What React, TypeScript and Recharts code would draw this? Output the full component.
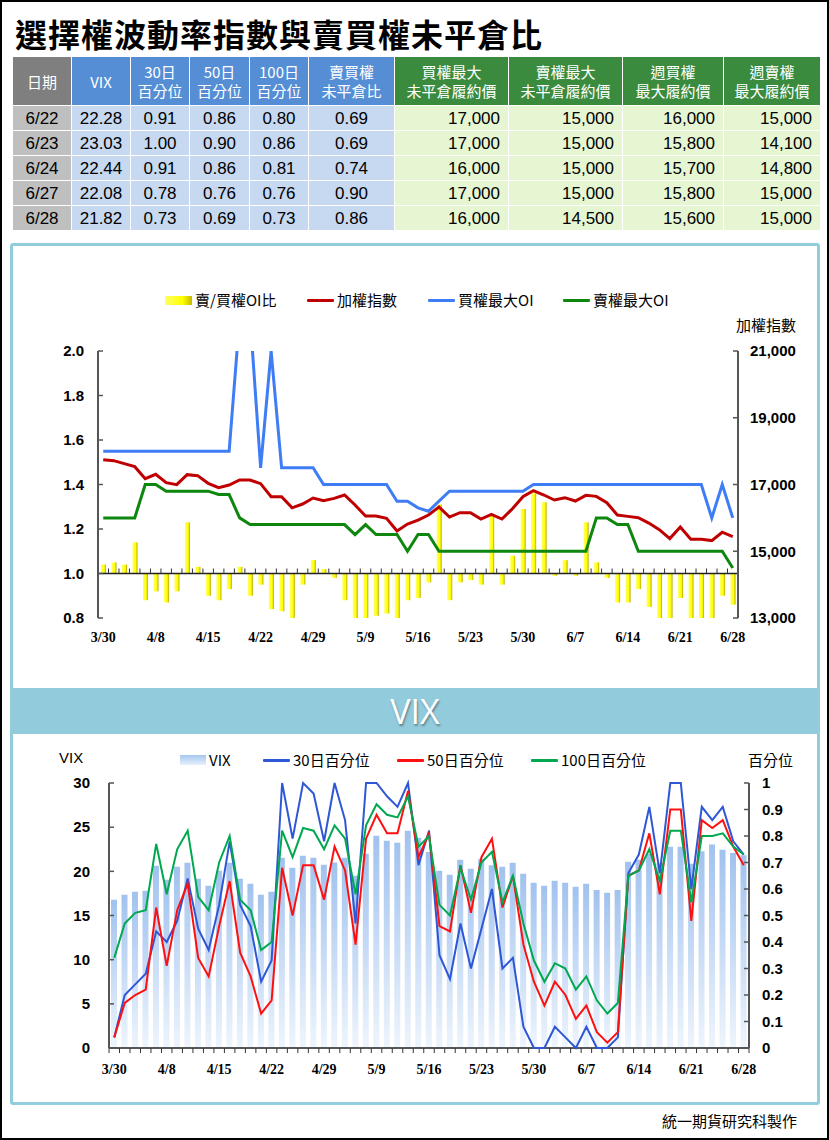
import { ComposedChart, Bar, Line, XAxis, YAxis, ReferenceLine } from "recharts";

// trading days 3/30 - 6/28
const dates = [
  "3/30", "3/31", "4/1", "4/6", "4/7", "4/8", "4/11", "4/12", "4/13", "4/14", "4/15",
  "4/18", "4/19", "4/20", "4/21", "4/22", "4/25", "4/26", "4/27", "4/28", "4/29",
  "5/3", "5/4", "5/5", "5/6", "5/9", "5/10", "5/11", "5/12", "5/13",
  "5/16", "5/17", "5/18", "5/19", "5/20", "5/23", "5/24", "5/25", "5/26", "5/27",
  "5/30", "5/31", "6/1", "6/2", "6/6", "6/7", "6/8", "6/9", "6/10",
  "6/13", "6/14", "6/15", "6/16", "6/17", "6/20", "6/21", "6/22", "6/23", "6/24", "6/27", "6/28",
];

// upper chart
const putCallRatio = [
  1.04, 1.05, 1.04, 1.14, 0.88, 0.92, 0.87, 0.92, 1.23, 1.03, 0.9,
  0.88, 0.93, 1.03, 0.9, 0.95, 0.84, 0.83, 0.78, 0.95, 1.06,
  1.02, 0.98, 0.88, 0.8, 0.77, 0.81, 0.82, 0.79, 0.88,
  0.89, 0.96, 1.31, 0.88, 0.96, 0.97, 0.95, 1.26, 0.95, 1.08,
  1.29, 1.36, 1.32, 0.99, 1.06, 0.99, 1.23, 1.05, 0.98,
  0.87, 0.87, 0.93, 0.85, 0.76, 0.75, 0.89, 0.69, 0.69, 0.74, 0.9, 0.86,
];
const taiex = [
  17745, 17715, 17625, 17535, 17175, 17305, 17055, 16995, 17295, 17265, 17035,
  16905, 16985, 17135, 17135, 17025, 16635, 16635, 16300, 16415, 16595,
  16515, 16585, 16685, 16385, 16055, 16055, 15985, 15605, 15815,
  15930, 16085, 16325, 16025, 16155, 16155, 15965, 16105, 15965, 16275,
  16635, 16815, 16685, 16535, 16605, 16505, 16675, 16645, 16455,
  16085, 16045, 16005, 15845, 15645, 15380, 15725, 15360, 15360, 15320, 15570, 15440,
];
const callMaxOI = [
  18000, 18000, 18000, 18000, 18000, 18000, 18000, 18000, 18000, 18000, 18000,
  18000, 18000, 22000, 22000, 17500, 21000, 17500, 17500, 17500, 17500,
  17000, 17000, 17000, 17000, 17000, 17000, 17000, 16500, 16500,
  16300, 16200, 16500, 16800, 16800, 16800, 16800, 16800, 16800, 16800,
  16800, 17000, 17000, 17000, 17000, 17000, 17000, 17000, 17000,
  17000, 17000, 17000, 17000, 17000, 17000, 17000, 17000, 17000, 16000, 17000, 16000,
];
const putMaxOI = [
  16000, 16000, 16000, 16000, 17000, 17000, 16800, 16800, 16800, 16800, 16800,
  16700, 16700, 16000, 15800, 15800, 15800, 15800, 15800, 15800, 15800,
  15800, 15800, 15800, 15500, 15800, 15500, 15500, 15500, 15000,
  15500, 15500, 15000, 15000, 15000, 15000, 15000, 15000, 15000, 15000,
  15000, 15000, 15000, 15000, 15000, 15000, 15000, 16000, 16000,
  15800, 15800, 15000, 15000, 15000, 15000, 15000, 15000, 15000, 15000, 15000, 14500,
];

// lower chart
const vix = [
  16.77, 17.34, 17.68, 17.79, 20.63, 19.04, 20.51, 20.97, 19.15, 18.36, 20.06,
  20.97, 19.15, 18.59, 17.34, 17.68, 21.53, 20.4, 21.76, 21.53, 20.74,
  21.0, 21.53, 19.5, 21.99, 24.03, 23.46, 23.23, 24.6, 23.8,
  22.2, 20.06, 19.6, 21.3, 20.29, 21.42, 20.7, 20.51, 20.97, 19.72,
  18.7, 18.36, 18.93, 18.7, 18.25, 18.59, 17.9, 17.57, 17.9,
  21.08, 21.3, 22.0, 20.9, 22.78, 22.78, 20.85, 22.28, 23.03, 22.44, 22.08, 21.82,
];
const pct30 = [
  0.04, 0.2, 0.24, 0.28, 0.44, 0.4, 0.48, 0.64, 0.45, 0.37, 0.54,
  0.78, 0.54, 0.46, 0.25, 0.33, 1.0, 0.79, 1.0, 0.96, 0.78,
  1.0, 0.86, 0.47, 1.0, 1.0, 0.95, 0.91, 1.0, 0.69,
  0.82, 0.35, 0.26, 0.47, 0.3, 0.45, 0.6, 0.3, 0.34, 0.08,
  0, 0, 0.08, 0.04, 0, 0.08, 0, 0, 0.04,
  0.66, 0.73, 0.91, 0.66, 1.0, 1.0, 0.6, 0.91, 0.86, 0.91, 0.78, 0.73,
];
const pct50 = [
  0.04, 0.17, 0.2, 0.22, 0.53, 0.31, 0.52, 0.62, 0.34, 0.27, 0.46,
  0.63, 0.36, 0.27, 0.13, 0.18, 0.68, 0.5, 0.69, 0.69, 0.56,
  0.76, 0.67, 0.39, 0.79, 0.88, 0.81, 0.81, 0.97, 0.72,
  0.81, 0.46, 0.44, 0.69, 0.51, 0.72, 0.79, 0.53, 0.65, 0.39,
  0.25, 0.16, 0.25, 0.2, 0.11, 0.16, 0.06, 0.02, 0.06,
  0.65, 0.67, 0.81, 0.58, 0.9, 0.9, 0.48, 0.86, 0.83, 0.86, 0.76, 0.69,
];
const pct100 = [
  0.34, 0.47, 0.51, 0.52, 0.77, 0.58, 0.75, 0.82, 0.57, 0.52, 0.7,
  0.8, 0.56, 0.52, 0.37, 0.4, 0.82, 0.72, 0.83, 0.82, 0.75,
  0.84, 0.79, 0.58, 0.84, 0.92, 0.88, 0.87, 0.95, 0.76,
  0.8, 0.54, 0.5, 0.68, 0.56, 0.7, 0.74, 0.55, 0.65, 0.47,
  0.33, 0.25, 0.32, 0.3, 0.22, 0.27, 0.18, 0.13, 0.17,
  0.65, 0.67, 0.75, 0.63, 0.82, 0.82, 0.55, 0.8, 0.8, 0.81, 0.76, 0.73,
];

const dateTicks = [0, 5, 10, 15, 20, 25, 30, 35, 40, 45, 50, 55, 60];
const ratioTicks = [0.8, 1.0, 1.2, 1.4, 1.6, 1.8, 2.0];
const indexTicks = [13000, 15000, 17000, 19000, 21000];
const vixTicks = [0, 5, 10, 15, 20, 25, 30];
const pctTicks = [0, 0.1, 0.2, 0.3, 0.4, 0.5, 0.6, 0.7, 0.8, 0.9, 1];

// table
const tableDates = ["6/22", "6/23", "6/24", "6/27", "6/28"];
const tableVix = ["22.28", "23.03", "22.44", "22.08", "21.82"];
const table30 = ["0.91", "1.00", "0.91", "0.78", "0.73"];
const table50 = ["0.86", "0.90", "0.86", "0.76", "0.69"];
const table100 = ["0.80", "0.86", "0.81", "0.76", "0.73"];
const tableRatio = ["0.69", "0.69", "0.74", "0.90", "0.86"];
const tableCallMax = ["17,000", "17,000", "16,000", "17,000", "16,000"];
const tablePutMax = ["15,000", "15,000", "15,000", "15,000", "14,500"];
const tableWeekCall = ["16,000", "15,800", "15,700", "15,800", "15,600"];
const tableWeekPut = ["15,000", "14,100", "14,800", "15,000", "15,000"];

const CJK = "'Noto Sans CJK TC', 'Noto Sans CJK SC', sans-serif";
const SANS = "'Liberation Sans', Arial, sans-serif";
const SERIF = "'Liberation Serif', 'Times New Roman', serif";

const topData = dates.map((d, i) => ({
  i,
  date: d,
  ratio: putCallRatio[i],
  taiex: taiex[i],
  callMax: callMaxOI[i],
  putMax: putMaxOI[i],
}));

const bottomData = dates.map((d, i) => ({
  i,
  date: d,
  vix: vix[i],
  p30: pct30[i],
  p50: pct50[i],
  p100: pct100[i],
}));

function dateTick(dy: number) {
  return (props: any) => {
    const { x, y, payload } = props;
    return (
      <text x={x} y={y + dy} textAnchor="middle" fontFamily={SERIF} fontWeight={700} fontSize={14} fill="#000">
        {dates[payload.value]}
      </text>
    );
  };
}

// horizontal category line with a mark at every category boundary
function categoryLine(dir: number) {
  return (props: any) => {
    const { x1, x2, y1 } = props;
    const n = dates.length;
    const marks = [];
    for (let k = 0; k <= n; k++) {
      const x = x1 + ((x2 - x1) * k) / n;
      marks.push(<line key={k} x1={x} x2={x} y1={y1} y2={y1 + dir * 5} stroke="#333" strokeWidth={1} />);
    }
    return (
      <g>
        <line x1={x1} x2={x2} y1={y1} y2={y1} stroke="#222" strokeWidth={1.5} />
        {marks}
      </g>
    );
  };
}

const axisTick = { fill: "#000", fontSize: 15, fontWeight: 700, fontFamily: SANS };
const axisLine = { stroke: "#555", strokeWidth: 2 };
const tickLine = { stroke: "#555", strokeWidth: 1.5 };

function LegendItem({ left, top, kind, color, label }: { left: number; top: number; kind: string; color: string; label: string }) {
  let swatch;
  if (kind === "bar") {
    swatch = <div style={{ width: 27, height: 9, background: "linear-gradient(90deg,#ffff66,#ffff00 65%,#c8b800)" }} />;
  } else if (kind === "vix") {
    swatch = <div style={{ width: 26, height: 10, background: "linear-gradient(180deg,#a7c6ee,#e6f0fb)" }} />;
  } else {
    swatch = <div style={{ width: 27, height: 3, background: color, borderRadius: 1 }} />;
  }
  return (
    <div style={{ position: "absolute", left, top, height: 20, display: "flex", alignItems: "center", gap: 3 }}>
      {swatch}
      <span style={{ fontFamily: CJK, fontSize: 15, lineHeight: "20px", color: "#000", whiteSpace: "nowrap" }}>{label}</span>
    </div>
  );
}

function TopChart() {
  return (
    <ComposedChart width={806} height={430} data={topData} margin={{ top: 106, right: 20, bottom: 27, left: 26 }}>
      <defs>
        <linearGradient id="yellowBar" x1="0" y1="0" x2="1" y2="0">
          <stop offset="0%" stopColor="#ffff66" />
          <stop offset="65%" stopColor="#ffff00" />
          <stop offset="100%" stopColor="#b8a800" />
        </linearGradient>
      </defs>
      <XAxis
        dataKey="i"
        type="number"
        domain={[-0.5, 60.5]}
        ticks={dateTicks}
        interval={0}
        axisLine={false}
        tickLine={false}
        tickSize={0}
        tickMargin={0}
        height={30}
        tick={dateTick(24)}
      />
      <YAxis
        yAxisId="left"
        domain={[0.8, 2]}
        ticks={ratioTicks}
        interval={0}
        allowDataOverflow
        width={60}
        tickSize={-5}
        tickMargin={19}
        axisLine={axisLine}
        tickLine={tickLine}
        tick={axisTick}
        tickFormatter={(v: number) => v.toFixed(1)}
      />
      <YAxis
        yAxisId="right"
        orientation="right"
        domain={[13000, 21000]}
        ticks={indexTicks}
        interval={0}
        allowDataOverflow
        width={60}
        tickSize={-5}
        tickMargin={17}
        axisLine={axisLine}
        tickLine={tickLine}
        tick={axisTick}
        tickFormatter={(v: number) => v.toLocaleString("en-US")}
      />
      <Bar yAxisId="left" dataKey={(d: any) => [1, d.ratio]} barSize={5} fill="url(#yellowBar)" isAnimationActive={false} />
      <ReferenceLine yAxisId="left" y={1} shape={categoryLine(-1)} />
      <Line yAxisId="right" type="linear" dataKey="taiex" stroke="#c00000" strokeWidth={3} dot={false} activeDot={false} isAnimationActive={false} />
      <Line yAxisId="right" type="linear" dataKey="callMax" stroke="#3f7df6" strokeWidth={3} dot={false} activeDot={false} isAnimationActive={false} />
      <Line yAxisId="right" type="linear" dataKey="putMax" stroke="#0e870e" strokeWidth={3} dot={false} activeDot={false} isAnimationActive={false} />
    </ComposedChart>
  );
}

function BottomChart() {
  return (
    <ComposedChart width={806} height={365} data={bottomData} margin={{ top: 48, right: 9, bottom: 22, left: 37 }}>
      <defs>
        <linearGradient id="vixBar" x1="0" y1="0" x2="0" y2="1">
          <stop offset="0%" stopColor="#a1c2ee" />
          <stop offset="100%" stopColor="#eef5fd" />
        </linearGradient>
      </defs>
      <XAxis
        dataKey="i"
        type="number"
        domain={[-0.5, 60.5]}
        ticks={dateTicks}
        interval={0}
        axisLine={false}
        tickLine={false}
        tickSize={0}
        tickMargin={0}
        height={30}
        tick={dateTick(26)}
      />
      <YAxis
        yAxisId="left"
        domain={[0, 30]}
        ticks={vixTicks}
        interval={0}
        width={60}
        tickSize={-5}
        tickMargin={24}
        axisLine={axisLine}
        tickLine={tickLine}
        tick={axisTick}
      />
      <YAxis
        yAxisId="right"
        orientation="right"
        domain={[0, 1]}
        ticks={pctTicks}
        interval={0}
        width={60}
        tickSize={-5}
        tickMargin={18}
        axisLine={axisLine}
        tickLine={tickLine}
        tick={axisTick}
        tickFormatter={(v: number) => String(v)}
      />
      <Bar yAxisId="left" dataKey="vix" barSize={6} fill="url(#vixBar)" isAnimationActive={false} />
      <ReferenceLine yAxisId="left" y={0} shape={categoryLine(1)} />
      <Line yAxisId="right" type="linear" dataKey="p30" stroke="#2e57d6" strokeWidth={2} dot={false} activeDot={false} isAnimationActive={false} />
      <Line yAxisId="right" type="linear" dataKey="p50" stroke="#ff1010" strokeWidth={2} dot={false} activeDot={false} isAnimationActive={false} />
      <Line yAxisId="right" type="linear" dataKey="p100" stroke="#00a84f" strokeWidth={2} dot={false} activeDot={false} isAnimationActive={false} />
    </ComposedChart>
  );
}

const colWidths = [59, 59, 59, 60, 59, 86, 114, 114, 101, 97];
const headers = [
  ["日期"], ["VIX"], ["30日", "百分位"], ["50日", "百分位"], ["100日", "百分位"], ["賣買權", "未平倉比"],
  ["買權最大", "未平倉履約價"], ["賣權最大", "未平倉履約價"], ["週買權", "最大履約價"], ["週賣權", "最大履約價"],
];

function OptionTable() {
  const headBg = (c: number) => (c === 0 ? "#7f7f7f" : c <= 5 ? "#558ed5" : "#3b8b3e");
  const cellBg = (c: number) => (c === 0 ? "#bfbfbf" : c <= 5 ? "#c6d9f1" : "#e6f6d2");
  const rows = tableDates.map((d, r) => [
    d, tableVix[r], table30[r], table50[r], table100[r], tableRatio[r],
    tableCallMax[r], tablePutMax[r], tableWeekCall[r], tableWeekPut[r],
  ]);
  return (
    <table style={{ position: "absolute", left: 10, top: 54, width: 808, borderCollapse: "collapse", tableLayout: "fixed" }}>
      <colgroup>
        {colWidths.map((w, i) => (
          <col key={i} style={{ width: w }} />
        ))}
      </colgroup>
      <tbody>
        <tr style={{ height: 49 }}>
          {headers.map((h, c) => (
            <td
              key={c}
              style={{
                background: headBg(c),
                color: "#fff",
                textAlign: "center",
                fontFamily: CJK,
                fontSize: 15,
                lineHeight: "19px",
                border: "1px solid #fff",
                padding: 0,
              }}
            >
              {h.map((t, k) => (
                <div key={k}>{t}</div>
              ))}
            </td>
          ))}
        </tr>
        {rows.map((row, r) => (
          <tr key={r} style={{ height: 25 }}>
            {row.map((v, c) => (
              <td
                key={c}
                style={{
                  background: cellBg(c),
                  color: "#000",
                  textAlign: c <= 5 ? "center" : "right",
                  paddingRight: c <= 5 ? 0 : 8,
                  paddingLeft: 0,
                  paddingTop: 0,
                  paddingBottom: 0,
                  fontFamily: SANS,
                  fontSize: 17,
                  lineHeight: "23px",
                  border: "1px solid #fff",
                }}
              >
                {v}
              </td>
            ))}
          </tr>
        ))}
      </tbody>
    </table>
  );
}

export default function App() {
  return (
    <div
      style={{
        position: "relative",
        width: 829,
        height: 1140,
        boxSizing: "border-box",
        border: "2px solid #000",
        background: "#fff",
        overflow: "hidden",
      }}
    >
      <style>{"body{margin:0}"}</style>
      <div
        style={{
          position: "absolute",
          left: 13,
          top: 8,
          fontFamily: CJK,
          fontWeight: 700,
          fontSize: 32,
          letterSpacing: 1,
          color: "#000",
          whiteSpace: "nowrap",
        }}
      >
        選擇權波動率指數與賣買權未平倉比
      </div>
      <OptionTable />

      <div
        style={{
          position: "absolute",
          left: 8,
          top: 241,
          width: 810,
          height: 862,
          boxSizing: "border-box",
          border: "3px solid #92cddc",
          borderRadius: 3,
        }}
      />
      <div style={{ position: "absolute", left: 10, top: 243 }}>
        <TopChart />
      </div>
      <LegendItem left={163} top={288} kind="bar" color="#ffff00" label="賣/買權OI比" />
      <LegendItem left={305} top={288} kind="line" color="#c00000" label="加權指數" />
      <LegendItem left={426} top={288} kind="line" color="#3f7df6" label="買權最大OI" />
      <LegendItem left={561} top={288} kind="line" color="#0e870e" label="賣權最大OI" />
      <div style={{ position: "absolute", left: 734, top: 313, fontFamily: CJK, fontSize: 15, lineHeight: "20px" }}>加權指數</div>

      <div
        style={{
          position: "absolute",
          left: 11,
          top: 686,
          width: 804,
          height: 46,
          background: "#92cbdc",
          color: "#fff",
          textAlign: "center",
          fontFamily: "'Open Sans', 'Noto Sans', sans-serif",
          fontSize: 34,
          lineHeight: "46px",
          textShadow: "1px 2px 2px rgba(0,0,0,0.35)",
        }}
      >
        VIX
      </div>

      <div style={{ position: "absolute", left: 10, top: 733 }}>
        <BottomChart />
      </div>
      <div style={{ position: "absolute", left: 57, top: 746, fontFamily: SANS, fontSize: 15, lineHeight: "20px" }}>VIX</div>
      <div style={{ position: "absolute", left: 746, top: 748, fontFamily: CJK, fontSize: 15, lineHeight: "20px" }}>百分位</div>
      <LegendItem left={178} top={748} kind="vix" color="#a7c6ee" label="VIX" />
      <LegendItem left={261} top={748} kind="line" color="#2e57d6" label="30日百分位" />
      <LegendItem left={395} top={748} kind="line" color="#ff1010" label="50日百分位" />
      <LegendItem left={529} top={748} kind="line" color="#00a84f" label="100日百分位" />

      <div
        style={{
          position: "absolute",
          left: 660,
          top: 1109,
          fontFamily: CJK,
          fontSize: 15,
          lineHeight: "20px",
          color: "#000",
        }}
      >
        統一期貨研究科製作
      </div>
    </div>
  );
}
